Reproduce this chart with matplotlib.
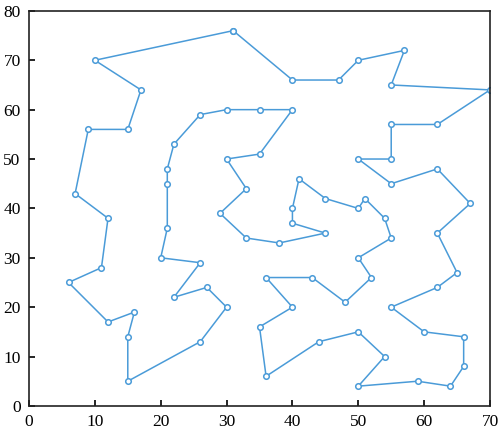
import matplotlib
matplotlib.use("Agg")
import matplotlib.pyplot as plt

# tour order (closed loop)
xs = [31, 10, 17, 15, 9, 7, 12, 11, 6, 12, 16, 15, 15, 26, 30, 27, 22, 26, 20, 21,
      21, 21, 22, 26, 30, 35, 40, 35, 30, 33, 29, 33, 38, 45, 40, 40, 41, 45, 50, 51,
      54, 55, 50, 52, 48, 43, 36, 40, 35, 36, 44, 50, 54, 50, 59, 64, 66, 66, 60, 55,
      62, 65, 62, 67, 62, 55, 50, 55, 55, 62, 70, 55, 57, 50, 47, 40]
ys = [76, 70, 64, 56, 56, 43, 38, 28, 25, 17, 19, 14, 5, 13, 20, 24, 22, 29, 30, 36,
      45, 48, 53, 59, 60, 60, 60, 51, 50, 44, 39, 34, 33, 35, 37, 40, 46, 42, 40, 42,
      38, 34, 30, 26, 21, 26, 26, 20, 16, 6, 13, 15, 10, 4, 5, 4, 8, 14, 15, 20,
      24, 27, 35, 41, 48, 45, 50, 50, 57, 57, 64, 65, 72, 70, 66, 66]

plt.rcParams['font.family'] = ['Liberation Serif', 'DejaVu Serif']

fig = plt.figure(figsize=(5, 4.36), dpi=100)
ax = fig.add_axes([0.058, 0.069, 0.922, 0.906])

ax.plot(xs + xs[:1], ys + ys[:1], color='#4a9bd8', lw=1.1,
        marker='o', ms=4, mfc='white', mec='#4a9bd8', mew=1.1)

ax.set_xlim(0, 70)
ax.set_ylim(0, 80)
ax.set_xticks(range(0, 71, 10))
ax.set_yticks(range(0, 81, 10))
ax.tick_params(direction='in', length=4, width=1.2, labelsize=12.5, pad=6)
for s in ax.spines.values():
    s.set_linewidth(1.2)
    s.set_color('#222222')

fig.savefig('out.png', dpi=100)
